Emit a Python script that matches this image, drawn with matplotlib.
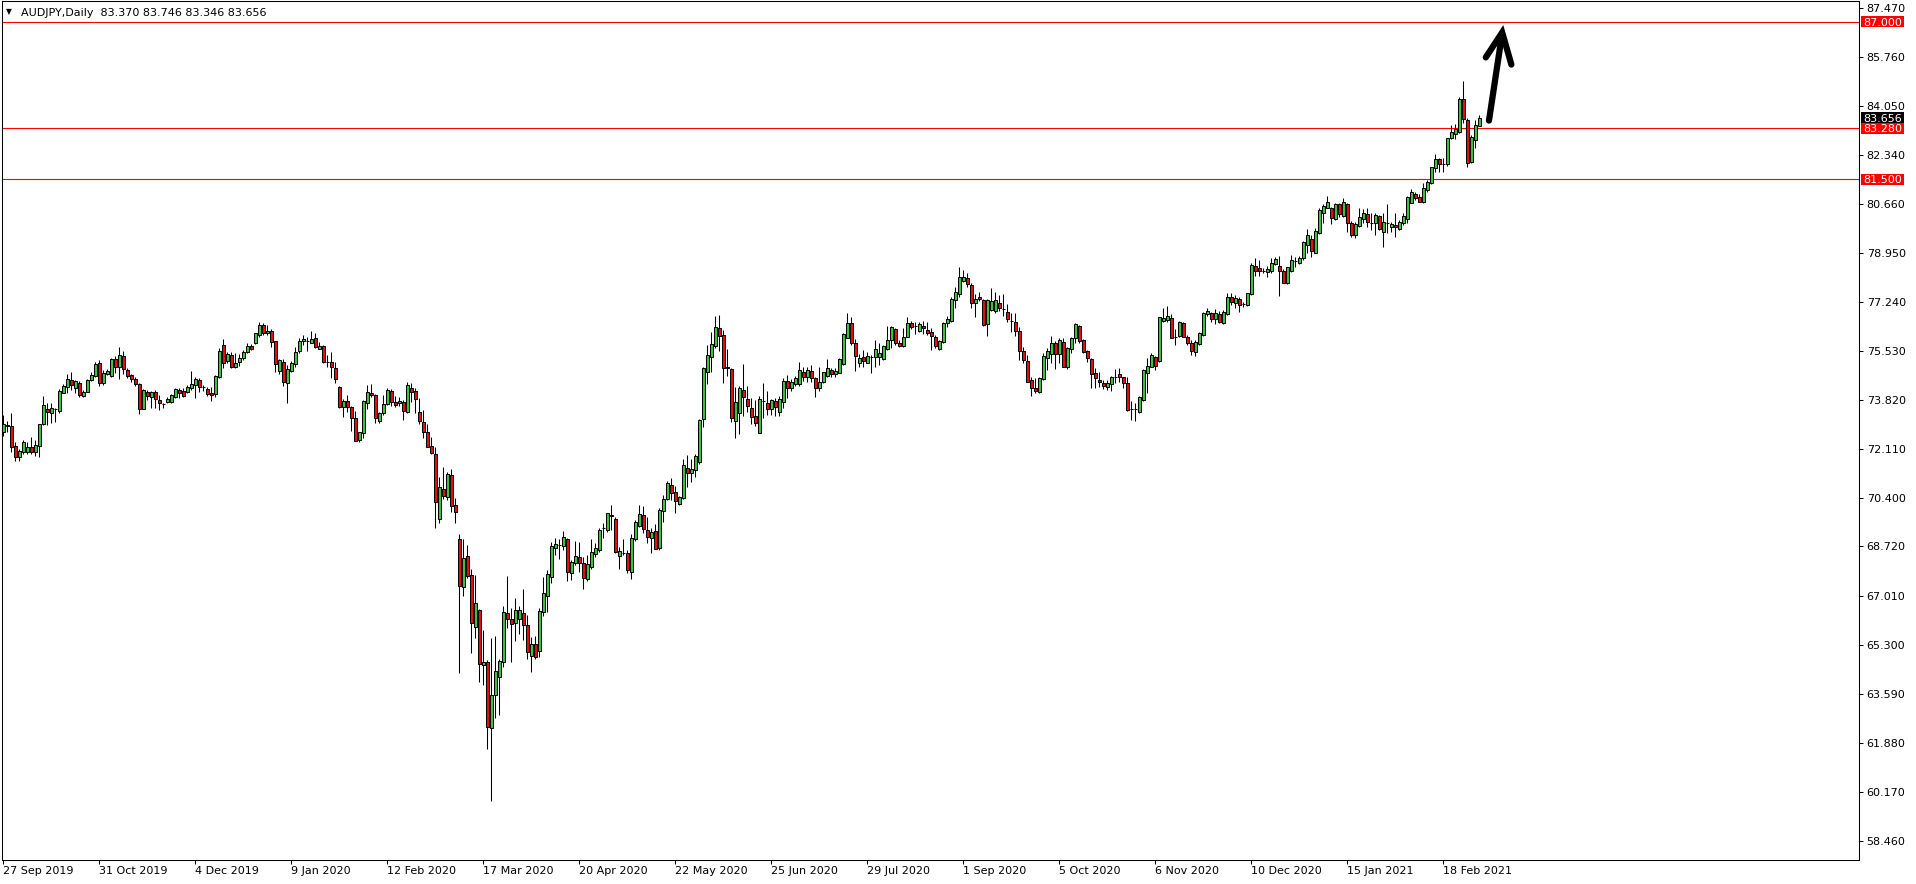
import matplotlib
matplotlib.use("Agg")
import matplotlib.pyplot as plt
from matplotlib.transforms import blended_transform_factory
from matplotlib.patches import Rectangle
import numpy as np

plt.rcParams['font.family'] = ['DejaVu Sans']

symbol_title = "AUDJPY,Daily"

opens = [
    72.70, 72.95, 72.90, 72.22, 71.85, 72.02, 72.02, 72.18, 72.00, 72.23,
    72.97, 73.51, 73.38, 73.50, 73.45, 74.08, 74.26, 74.50, 74.25, 74.40,
    73.96, 74.11, 74.50, 74.67, 75.10, 74.40, 74.71, 74.67, 75.26, 74.96,
    75.35, 74.87, 74.68, 74.55, 74.38, 73.51, 74.09, 73.94, 74.10, 73.82,
    73.68, 73.76, 73.76, 73.94, 74.17, 74.13, 74.11, 74.23, 74.34, 74.52,
    74.27, 74.20, 74.08, 74.02, 74.61, 75.74, 75.19, 75.39, 74.98, 75.13,
    75.27, 75.48, 75.70, 75.79, 76.07, 76.43, 76.14, 76.21, 75.86, 74.84,
    75.13, 74.40, 74.84, 75.06, 75.54, 75.86, 75.86, 75.82, 75.97, 75.61,
    75.69, 75.16, 75.13, 74.92, 74.26, 73.59, 73.78, 73.56, 73.18, 72.43,
    72.68, 73.73, 74.05, 73.99, 73.10, 73.36, 73.67, 74.15, 73.76, 73.70,
    73.74, 73.41, 74.23, 74.14, 73.40, 73.05, 72.70, 72.22, 71.94, 69.67,
    70.71, 70.45, 71.21, 70.17, 68.97, 67.32, 68.39, 67.72, 65.93, 66.51,
    64.58, 64.69, 62.41, 63.55, 64.17, 64.71, 66.39, 66.20, 66.07, 66.18,
    66.39, 65.99, 64.92, 65.31, 65.09, 66.45, 67.01, 67.67, 68.66, 68.77,
    68.75, 68.98, 67.79, 68.13, 68.34, 68.13, 67.58, 67.99, 68.45, 68.60,
    69.35, 69.30, 69.82, 69.68, 68.40, 68.51, 68.51, 67.84, 68.97, 69.45,
    69.82, 69.29, 69.03, 69.26, 68.66, 69.97, 70.36, 70.86, 70.63, 70.20,
    70.42, 71.47, 71.27, 71.38, 71.65, 73.15, 74.81, 75.33, 75.71, 76.32,
    76.08, 74.96, 74.90, 73.10, 73.36, 74.17, 73.86, 73.53, 73.26, 72.68,
    73.80, 73.71, 73.50, 73.79, 73.42, 73.76, 74.48, 74.25, 74.37, 74.37,
    74.78, 74.63, 74.83, 74.58, 74.25, 74.44, 74.66, 74.85, 74.73, 74.77,
    75.06, 75.99, 76.49, 75.79, 75.12, 75.31, 75.12, 75.33, 75.33, 75.33,
    75.25, 75.59, 75.91, 76.28, 75.79, 75.70, 76.03, 76.49, 76.41, 76.23,
    76.41, 76.26, 76.18, 76.03, 75.59, 75.83, 76.49, 76.58, 77.30, 77.50,
    77.98, 78.06, 77.83, 77.19, 77.40, 77.30, 76.46, 76.96, 76.93, 77.19,
    76.99, 76.90, 76.57, 76.53, 76.23, 75.53, 75.18, 74.52, 74.25, 74.11,
    74.54, 75.27, 75.41, 75.79, 75.41, 75.83, 74.96, 75.59, 75.97, 76.40,
    75.91, 75.53, 75.25, 74.75, 74.52, 74.43, 74.26, 74.37, 74.63, 74.72,
    74.61, 74.40, 73.51, 73.51, 73.39, 73.82, 74.75, 74.98, 75.33, 75.18,
    76.58, 76.61, 76.69, 76.03, 76.06, 76.51, 76.00, 75.82, 75.50, 75.76,
    76.08, 76.81, 76.86, 76.64, 76.81, 76.49, 76.81, 77.40, 77.19, 77.33,
    77.15, 77.13, 77.50, 78.49, 78.42, 78.32, 78.29, 78.32, 78.55, 78.49,
    78.32, 77.88, 78.32, 78.66, 78.60, 78.77, 79.21, 79.43, 78.95, 79.62,
    80.34, 80.52, 80.49, 80.11, 80.64, 80.24, 80.64, 79.97, 79.57, 79.89,
    80.12, 80.30, 79.99, 79.99, 80.22, 79.68, 79.97, 79.86, 79.93, 79.76,
    79.97, 80.11, 80.69, 80.99, 80.90, 80.73, 81.13, 81.37, 81.91, 82.21,
    82.04, 82.04, 82.93, 83.10, 83.16, 84.30, 83.57, 82.12, 82.87, 83.370,
]

highs = [
    73.30, 73.08, 73.36, 72.37, 72.10, 72.43, 72.37, 72.52, 72.43, 72.97,
    73.96, 73.70, 73.70, 73.55, 74.19, 74.38, 74.71, 74.80, 74.52, 74.48,
    74.17, 74.55, 74.80, 75.16, 75.21, 74.87, 74.89, 75.30, 75.35, 75.66,
    75.54, 74.95, 74.71, 74.63, 74.42, 74.20, 74.17, 74.15, 74.17, 73.99,
    73.73, 73.91, 74.03, 74.23, 74.23, 74.23, 74.34, 74.83, 74.63, 74.60,
    74.34, 74.26, 74.26, 74.68, 75.62, 75.93, 75.50, 75.50, 75.45, 75.42,
    75.56, 75.79, 75.77, 76.17, 76.54, 76.49, 76.43, 76.28, 75.89, 75.24,
    75.24, 75.04, 75.18, 75.68, 75.97, 76.08, 76.03, 76.21, 76.14, 75.85,
    75.74, 75.39, 75.48, 75.13, 74.31, 73.84, 74.00, 73.61, 73.44, 72.72,
    73.82, 74.34, 74.37, 74.02, 73.42, 73.99, 74.23, 74.19, 73.96, 73.94,
    73.82, 74.46, 74.42, 74.23, 73.88, 73.47, 72.97, 72.54, 72.20, 71.15,
    71.50, 71.33, 71.41, 70.40, 69.16, 68.97, 68.77, 67.94, 67.73, 66.53,
    65.81, 64.77, 65.55, 65.62, 64.82, 66.65, 67.69, 66.57, 66.92, 66.65,
    67.24, 66.33, 65.58, 65.60, 66.57, 67.65, 67.90, 68.89, 69.00, 68.97,
    69.26, 69.00, 68.25, 68.92, 68.89, 68.34, 68.42, 68.97, 68.83, 69.35,
    69.55, 69.90, 70.16, 69.76, 68.71, 68.97, 68.60, 69.16, 69.64, 70.16,
    70.13, 69.74, 69.35, 69.50, 70.05, 70.51, 71.00, 71.09, 70.83, 70.48,
    71.77, 71.90, 71.75, 71.93, 73.15, 74.98, 75.74, 76.20, 76.75, 76.78,
    76.26, 75.59, 74.95, 74.29, 74.31, 75.07, 74.31, 73.88, 73.82, 73.96,
    74.40, 74.14, 73.85, 73.88, 73.96, 74.58, 74.69, 74.55, 74.66, 75.13,
    74.98, 74.96, 75.04, 74.61, 74.98, 74.81, 75.25, 74.94, 74.92, 75.30,
    76.14, 76.84, 76.70, 75.95, 75.41, 75.56, 75.48, 75.39, 75.91, 75.80,
    75.74, 76.40, 76.41, 76.32, 75.91, 76.32, 76.70, 76.57, 76.53, 76.53,
    76.57, 76.55, 76.32, 76.08, 75.91, 76.55, 76.75, 77.42, 77.77, 78.46,
    78.35, 78.23, 77.91, 77.50, 77.57, 77.33, 77.34, 77.71, 77.57, 77.48,
    77.50, 77.15, 76.84, 76.84, 76.37, 75.68, 75.39, 74.61, 74.60, 74.63,
    75.45, 75.62, 76.05, 75.88, 75.97, 75.97, 75.66, 76.00, 76.51, 76.43,
    75.95, 75.56, 75.30, 74.92, 74.78, 74.50, 74.50, 74.66, 74.89, 74.92,
    74.63, 74.61, 73.80, 73.71, 73.96, 74.89, 75.30, 75.47, 75.35, 76.72,
    77.01, 77.10, 76.82, 76.28, 76.57, 76.55, 76.08, 75.91, 75.91, 76.20,
    76.90, 77.04, 76.90, 76.98, 76.92, 76.96, 77.53, 77.53, 77.48, 77.42,
    77.24, 77.56, 78.58, 78.75, 78.69, 78.40, 78.49, 78.75, 78.81, 78.84,
    78.37, 78.46, 78.87, 78.81, 78.83, 79.36, 79.78, 79.57, 79.80, 80.49,
    80.64, 80.92, 80.55, 80.69, 80.69, 80.86, 80.69, 80.05, 80.03, 80.52,
    80.46, 80.49, 80.32, 80.34, 80.26, 80.32, 80.64, 80.03, 80.34, 80.09,
    80.32, 80.92, 81.16, 81.07, 81.01, 81.37, 81.48, 81.95, 82.37, 82.26,
    82.24, 82.95, 83.40, 83.42, 84.38, 84.93, 83.63, 83.05, 83.57, 83.746,
]

lows = [
    72.58, 72.72, 72.02, 71.71, 71.71, 71.94, 71.94, 71.94, 71.87, 71.82,
    72.95, 72.95, 73.03, 73.04, 73.38, 74.05, 74.05, 74.17, 74.05, 73.92,
    73.92, 74.09, 74.47, 74.63, 74.31, 74.34, 74.68, 74.63, 74.77, 74.54,
    74.71, 74.57, 74.46, 74.31, 73.32, 73.50, 73.82, 73.55, 73.53, 73.47,
    73.55, 73.70, 73.70, 73.88, 73.88, 73.92, 74.05, 74.17, 73.88, 74.11,
    74.14, 73.96, 73.80, 73.92, 74.58, 74.92, 75.10, 74.92, 74.95, 75.00,
    75.21, 75.45, 75.56, 75.77, 76.00, 76.08, 76.08, 75.65, 74.81, 74.73,
    74.32, 73.73, 74.81, 74.98, 75.47, 75.74, 75.54, 75.79, 75.62, 75.58,
    75.10, 74.98, 74.60, 74.40, 73.53, 73.24, 73.41, 72.75, 72.40, 72.37,
    72.49, 73.50, 73.94, 73.01, 73.01, 73.30, 73.65, 73.61, 73.57, 73.61,
    73.12, 73.38, 73.76, 73.38, 72.99, 72.49, 72.20, 71.94, 69.35, 69.53,
    70.36, 70.34, 69.91, 69.55, 64.30, 66.99, 67.61, 65.02, 65.52, 64.01,
    63.90, 61.66, 59.87, 62.74, 62.85, 64.54, 65.87, 64.71, 65.44, 65.67,
    65.46, 64.80, 64.36, 64.79, 64.86, 66.31, 66.45, 67.46, 68.42, 68.28,
    68.60, 67.53, 67.55, 68.08, 67.84, 67.24, 67.53, 67.92, 68.37, 68.54,
    69.00, 69.24, 69.30, 68.48, 67.94, 68.42, 67.81, 67.59, 68.92, 69.41,
    69.18, 68.85, 68.50, 68.63, 68.60, 69.58, 70.34, 70.34, 69.90, 70.17,
    70.39, 70.80, 70.98, 71.13, 71.58, 72.89, 74.37, 74.81, 75.64, 75.54,
    74.43, 74.67, 73.07, 72.49, 72.63, 73.28, 73.41, 72.97, 72.93, 72.68,
    73.18, 73.30, 73.30, 73.27, 73.27, 73.55, 73.88, 74.13, 74.31, 74.31,
    74.48, 74.46, 74.44, 73.94, 74.13, 74.40, 74.63, 74.63, 74.63, 74.75,
    75.04, 75.97, 75.74, 74.83, 74.98, 74.98, 75.10, 74.77, 74.98, 75.04,
    75.21, 75.56, 75.62, 75.74, 75.66, 75.66, 76.00, 76.28, 76.11, 76.20,
    76.12, 76.08, 75.56, 75.62, 75.56, 75.79, 76.38, 76.55, 77.04, 77.40,
    77.94, 77.77, 77.04, 76.72, 77.28, 76.41, 76.06, 76.93, 76.86, 76.92,
    76.75, 76.55, 76.20, 76.05, 75.21, 75.10, 74.46, 73.96, 74.05, 74.08,
    74.52, 74.87, 75.10, 74.89, 75.10, 74.96, 74.89, 75.47, 75.82, 75.80,
    75.45, 75.16, 74.23, 74.23, 74.26, 74.19, 74.17, 74.15, 74.40, 74.46,
    74.23, 73.45, 73.13, 73.10, 73.38, 73.80, 74.08, 74.96, 74.87, 75.16,
    76.55, 76.55, 75.97, 75.74, 76.00, 76.00, 75.74, 75.39, 75.35, 75.74,
    76.05, 76.76, 76.55, 76.46, 76.51, 76.46, 76.78, 77.13, 77.01, 76.87,
    77.07, 77.09, 77.48, 78.14, 78.14, 78.23, 78.09, 78.23, 78.52, 77.45,
    77.88, 77.86, 78.29, 78.46, 78.55, 78.69, 78.93, 78.81, 78.93, 79.59,
    79.99, 80.50, 79.95, 80.09, 80.20, 80.20, 79.66, 79.48, 79.45, 79.83,
    79.97, 79.86, 79.74, 79.57, 79.74, 79.16, 79.65, 79.68, 79.51, 79.74,
    79.93, 79.97, 80.67, 80.78, 80.73, 80.69, 81.05, 81.34, 81.75, 81.77,
    81.77, 81.97, 82.91, 82.90, 83.13, 83.48, 81.94, 82.06, 82.61, 83.346,
]

closes = [
    72.97, 72.93, 72.20, 71.85, 72.05, 72.35, 72.18, 72.02, 72.25, 72.97,
    73.64, 73.42, 73.53, 73.52, 74.13, 74.31, 74.54, 74.34, 74.48, 73.99,
    74.10, 74.52, 74.69, 75.07, 74.40, 74.77, 74.83, 75.24, 74.98, 75.39,
    74.89, 74.67, 74.55, 74.37, 73.52, 74.17, 73.97, 74.11, 73.84, 73.70,
    73.68, 73.84, 73.99, 74.20, 74.08, 73.97, 74.26, 74.38, 74.55, 74.29,
    74.27, 74.02, 73.99, 74.66, 75.54, 75.12, 75.42, 74.98, 75.12, 75.28,
    75.48, 75.70, 75.60, 76.14, 76.43, 76.14, 76.22, 75.85, 75.06, 75.21,
    74.46, 74.90, 75.12, 75.48, 75.86, 75.93, 75.86, 75.93, 75.66, 75.70,
    75.14, 75.15, 74.96, 74.54, 73.59, 73.80, 73.59, 73.18, 72.40, 72.70,
    73.79, 74.09, 73.99, 73.21, 73.38, 73.67, 74.17, 73.76, 73.65, 73.79,
    73.45, 74.34, 74.11, 73.86, 73.10, 72.72, 72.20, 71.96, 70.26, 70.80,
    70.49, 71.24, 70.14, 69.93, 67.36, 68.31, 67.69, 66.04, 66.74, 64.62,
    64.69, 62.45, 63.55, 64.38, 64.73, 66.43, 66.18, 66.02, 66.51, 66.51,
    65.98, 65.06, 65.33, 64.88, 66.47, 67.09, 67.76, 68.74, 68.81, 68.77,
    69.04, 67.84, 68.19, 68.39, 68.13, 67.63, 68.11, 68.52, 68.66, 69.30,
    69.35, 69.87, 69.78, 68.52, 68.56, 68.50, 67.90, 69.00, 69.59, 69.84,
    69.32, 69.06, 69.24, 68.63, 69.99, 70.37, 70.94, 70.60, 70.32, 70.43,
    71.56, 71.29, 71.41, 71.87, 73.12, 74.95, 75.39, 75.77, 76.37, 76.06,
    74.95, 74.94, 73.21, 73.74, 74.25, 73.91, 73.62, 73.24, 73.01, 73.85,
    73.80, 73.50, 73.82, 73.56, 73.85, 74.48, 74.25, 74.44, 74.60, 74.87,
    74.63, 74.87, 74.60, 74.25, 74.44, 74.78, 74.92, 74.74, 74.83, 75.25,
    76.12, 76.49, 75.82, 75.37, 75.30, 75.19, 75.37, 75.33, 75.59, 75.45,
    75.70, 75.91, 76.35, 75.79, 75.71, 76.03, 76.51, 76.38, 76.41, 76.45,
    76.32, 76.17, 76.06, 75.70, 75.88, 76.49, 76.63, 77.34, 77.57, 78.09,
    78.09, 77.86, 77.19, 77.34, 77.33, 76.43, 77.30, 77.28, 77.30, 77.04,
    76.99, 76.63, 76.57, 76.22, 75.54, 75.21, 74.46, 74.23, 74.15, 74.60,
    75.35, 75.53, 75.79, 75.41, 75.91, 74.98, 75.62, 75.97, 76.47, 75.89,
    75.48, 75.30, 74.73, 74.58, 74.46, 74.31, 74.40, 74.63, 74.63, 74.61,
    74.40, 73.47, 73.51, 73.51, 73.94, 74.87, 75.01, 75.39, 75.01, 76.70,
    76.69, 76.75, 75.99, 76.03, 76.55, 76.03, 75.82, 75.54, 75.85, 76.17,
    76.86, 76.92, 76.63, 76.86, 76.55, 76.90, 77.40, 77.24, 77.36, 77.13,
    77.15, 77.53, 78.52, 78.32, 78.30, 78.32, 78.37, 78.60, 78.72, 78.32,
    77.91, 78.44, 78.69, 78.66, 78.77, 79.31, 79.57, 79.02, 79.71, 80.44,
    80.59, 80.73, 80.15, 80.64, 80.30, 80.70, 79.97, 79.57, 79.94, 80.20,
    80.32, 80.01, 79.99, 80.26, 79.77, 80.01, 79.97, 79.95, 79.83, 80.01,
    80.23, 80.90, 81.05, 80.86, 80.73, 81.21, 81.40, 81.92, 82.21, 82.04,
    82.04, 82.93, 83.16, 83.26, 84.30, 83.59, 82.06, 82.97, 83.38, 83.656,
]

date_labels = ["27 Sep 2019", "31 Oct 2019", "4 Dec 2019", "9 Jan 2020",
               "12 Feb 2020", "17 Mar 2020", "20 Apr 2020", "22 May 2020",
               "25 Jun 2020", "29 Jul 2020", "1 Sep 2020", "5 Oct 2020",
               "6 Nov 2020", "10 Dec 2020", "15 Jan 2021", "18 Feb 2021"]
bars_per_label = 24

price_ticks = [87.470, 85.760, 84.050, 82.340, 80.660, 78.950, 77.240, 75.530,
               73.820, 72.110, 70.400, 68.720, 67.010, 65.300, 63.590, 61.880,
               60.170, 58.460]

levels = [87.000, 83.280, 81.500]

# annotation arrow (bar index, price)
arrow_shaft = ([371.4, 374.6], [83.55, 86.50])
arrow_head = ([370.6, 374.7, 377.0], [85.75, 86.62, 85.50])

BULL = '#40c040'
BEAR = '#e01010'
FS = 8.0

W, H = 1916, 884
fig = plt.figure(figsize=(W / 100, H / 100), dpi=100)
fig.patch.set_facecolor('white')
ax = fig.add_axes([2 / W, 24 / H, 1857 / W, 859 / H])
ax.set_facecolor('white')

o = np.array(opens)
h = np.array(highs)
l = np.array(lows)
c = np.array(closes)
x = np.arange(len(c))

up = c > o + 0.005
dn = c < o - 0.005
dj = ~(up | dn)

ax.vlines(x, l, h, color='black', linewidth=0.75, zorder=3)
ax.bar(x[up], (c - o)[up], bottom=o[up], width=0.6, color=BULL,
       edgecolor='black', linewidth=0.7, zorder=4)
ax.bar(x[dn], (o - c)[dn], bottom=c[dn], width=0.6, color=BEAR,
       edgecolor='black', linewidth=0.7, zorder=4)
ax.hlines(c[dj], x[dj] - 0.32, x[dj] + 0.32, color='black', linewidth=0.75, zorder=4)

for lv in levels:
    ax.axhline(lv, color='#ff0000', linewidth=0.8, zorder=2)

ax.set_xlim(-0.325, 463.9)
ax.set_ylim(57.804, 87.714)

# right price axis
ax.yaxis.tick_right()
ax.set_yticks(price_ticks)
ax.set_yticklabels([f"{v:.3f}" for v in price_ticks])
ax.tick_params(axis='y', direction='out', length=3, width=0.75, pad=2.5,
               labelsize=FS, colors='black')

# bottom date axis
tick_pos = [i * bars_per_label for i in range(len(date_labels))]
ax.set_xticks(tick_pos)
ax.set_xticklabels(date_labels)
for lab in ax.get_xticklabels():
    lab.set_horizontalalignment('left')
ax.tick_params(axis='x', direction='out', length=3, width=0.75, pad=1.5,
               labelsize=FS, colors='black')

for sp in ax.spines.values():
    sp.set_linewidth(0.75)
    sp.set_color('black')

# price label boxes on the right scale
tr = blended_transform_factory(ax.transAxes, ax.transData)
px_per_price = 859 / (87.714 - 57.804)
box_h = 11.6 / px_per_price
box_x0 = 1.0 + 2 / 1857
box_w = 43 / 1857


def price_box(value, face):
    ax.add_patch(Rectangle((box_x0, value - box_h / 2), box_w, box_h, transform=tr,
                           facecolor=face, edgecolor='none', zorder=9, clip_on=False))
    ax.text(box_x0 + box_w / 2, value, f"{value:.3f}", transform=tr, ha='center',
            va='center_baseline', fontsize=FS, color='white', zorder=10, clip_on=False)


for lv in levels:
    price_box(lv, '#ff0000')
price_box(c[-1], 'black')

# header
header = f"{symbol_title}  {o[-1]:.3f} {h[-1]:.3f} {l[-1]:.3f} {c[-1]:.3f}"
fig.text(21 / W, 1 - 12.5 / H, header, fontsize=FS, ha='left', va='center', color='black')
fig.text(6 / W, 1 - 12 / H, "\u25BC", fontsize=5.5, ha='left', va='center', color='black')

# hand-drawn arrow
ax.plot(*arrow_shaft, color='black', linewidth=4.5, solid_capstyle='round', zorder=6)
ax.plot(*arrow_head, color='black', linewidth=4.5, solid_capstyle='round',
        solid_joinstyle='miter', zorder=6)

fig.savefig('out.png', dpi=100, facecolor='white')
